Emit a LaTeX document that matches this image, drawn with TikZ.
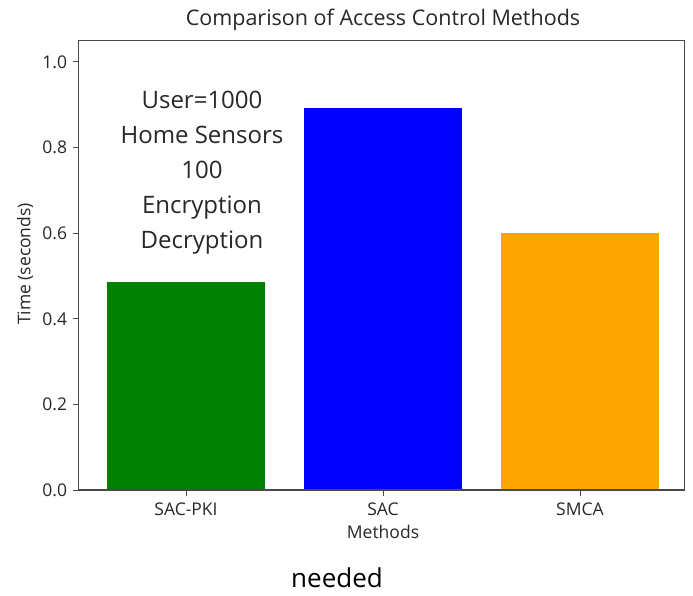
\documentclass[tikz,border=0pt]{standalone}
\usepackage{fontspec}
\setmainfont{Open Sans}
\usetikzlibrary{positioning}

\definecolor{barGreen}{RGB}{0,128,0}
\definecolor{barBlue}{RGB}{0,0,255}
\definecolor{barOrange}{RGB}{255,165,0}
\definecolor{inkGray}{RGB}{40,40,40}

\begin{document}
\begin{tikzpicture}[
    x=1pt, y=-1pt,
    every node/.style={text=inkGray, inner sep=0pt},
    spine/.style   ={draw=inkGray!85, line width=1.3pt},
    tickmark/.style={draw=inkGray!85, line width=1pt},
    ticklbl/.style ={font=\fontsize{17.5}{20}\selectfont},
    axlbl/.style   ={font=\fontsize{17.5}{20}\selectfont},
    bar/.style     ={draw=none},
]
\useasboundingbox[fill=white] (0,0) rectangle (693,596);

% plot area: value axes, origin at the first bar
\begin{scope}[shift={(186,490)}, x=197pt, y=428pt]
  \fill[bar, barGreen]  (-0.4,0) rectangle (0.4,0.486);
  \fill[bar, barBlue]   (0.6,0)  rectangle (1.4,0.893);
  \fill[bar, barOrange] (1.6,0)  rectangle (2.4,0.600);
  \draw[spine] (-0.545,0) rectangle (2.53,1.051);
  % y ticks
  \foreach \v in {0.0,0.2,0.4,0.6,0.8,1.0}{
    \draw[tickmark] (-0.545,\v) -- ++(-6pt,0)
      node[ticklbl, anchor=east, xshift=-5pt] (ytick\v) {\v};
  }
  % x ticks
  \foreach \i/\name in {0/SAC-PKI,1/SAC,2/SMCA}{
    \draw[tickmark] (\i,0) -- ++(0,-6pt)
      node[ticklbl, anchor=north, yshift=-6pt] (xtick\i) {\name};
  }
\end{scope}

\node[font=\fontsize{21.5}{25}\selectfont] (title) at (383,20)
  {Comparison of Access Control Methods};
\node[axlbl, below=9pt of xtick1] (xlbl) {Methods};
\node[axlbl, rotate=90] (ylbl) at (25,264) {Time (seconds)};

\node[font=\fontsize{24}{35}\selectfont, align=center] (setup) at (202,173)
  {User=1000\\Home Sensors\\100\\Encryption\\Decryption};

\node[font=\fontsize{26}{30}\selectfont, text=black] (needed) at (337,578) {needed};
\end{tikzpicture}
\end{document}
